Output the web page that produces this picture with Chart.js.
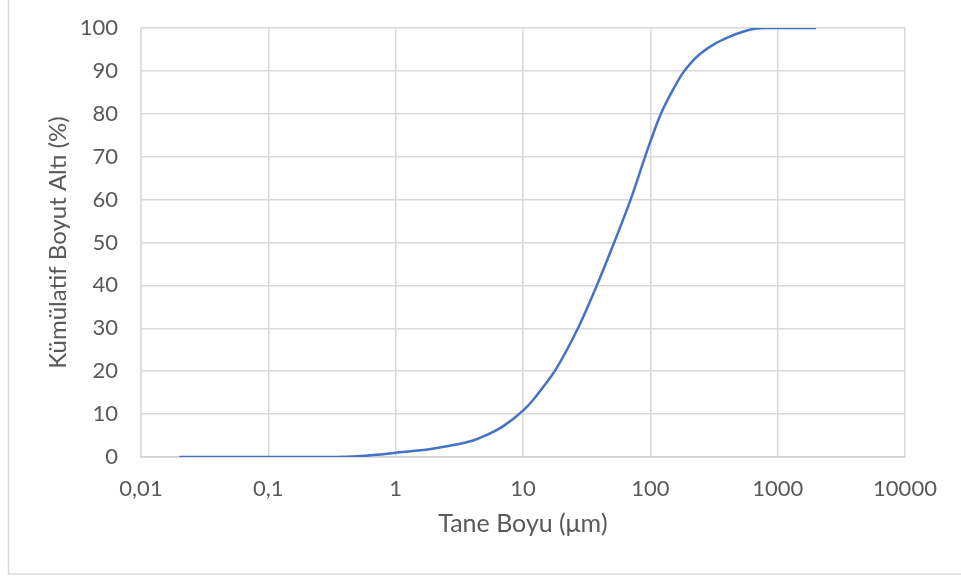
<!DOCTYPE html>
<html>
<head>
<meta charset="utf-8">
<script src="https://cdn.jsdelivr.net/npm/chart.js@4/dist/chart.umd.min.js"></script>
<style>
  html, body { margin: 0; padding: 0; background: #fff; }
  #wrap { width: 961px; height: 579px; }
</style>
</head>
<body>
<div id="wrap"><canvas id="chart1" width="961" height="579"></canvas></div>
<script>
// particle size distribution (cumulative undersize)
var sizes = [0.02, 0.05, 0.1, 0.2, 0.3, 0.4, 0.5, 0.7, 1, 1.5, 2, 3, 4, 5, 7, 10, 12, 15, 18, 27, 38, 52, 70, 91, 100, 121, 150, 178, 210, 244, 320, 420, 540, 680, 800, 1000, 2000]
var cumulative = [0, 0, 0, 0, 0, 0.05, 0.15, 0.5, 1.0, 1.5, 2.0, 2.9, 3.8, 4.9, 7.2, 10.8, 13.3, 17.0, 20.3, 30, 40, 50, 60, 70, 73.5, 80, 85.5, 89.3, 92.0, 93.9, 96.3, 98.0, 99.2, 99.9, 100, 100, 100]
var xTicks = [0.01, 0.1, 1, 10, 100, 1000, 10000]

var points = sizes.map(function (s, i) { return { x: s, y: cumulative[i] } })

var gridCol = '#d9d9d9'
var textCol = '#595959'
var fontFam = 'Lato, "Open Sans", sans-serif'

// outer chart frame
var frame = {
    id: 'frame',
    beforeDraw: function (chart) {
        var c = chart.ctx
        c.save()
        c.strokeStyle = '#d9d9d9'
        c.lineWidth = 1.5
        c.strokeRect(8.5, -10, 1000, 584)
        c.restore()
    }
}

var g1 = {
    type: 'line',
    data: {
        datasets: [{
            data: points,
            borderColor: '#4472C4',
            borderWidth: 2.5,
            pointRadius: 0,
            fill: false,
            cubicInterpolationMode: 'monotone'
        }]
    },
    options: {
        responsive: false,
        animation: false,
        layout: { padding: { left: 0, top: 28, right: 56, bottom: 0 } },
        plugins: { legend: { display: false }, tooltip: { enabled: false } },
        scales: {
            x: {
                type: 'logarithmic',
                min: 0.01,
                max: 10000,
                afterBuildTicks: function (scale) {
                    scale.ticks = xTicks.map(function (v) { return { value: v } })
                },
                afterFit: function (scale) { scale.height = 122 },
                grid: { color: gridCol, lineWidth: 1.5, drawTicks: false },
                border: { color: '#d0d0d0', width: 1.5 },
                ticks: {
                    padding: 19,
                    color: textCol,
                    font: { family: fontFam, size: 22 },
                    maxRotation: 0,
                    autoSkip: false,
                    callback: function (v) { return String(v).replace('.', ',') }
                },
                title: {
                    display: true,
                    text: 'Tane Boyu (\u03bcm)',
                    color: textCol,
                    font: { family: fontFam, size: 25 },
                    padding: { top: 0, bottom: 40 }
                }
            },
            y: {
                min: 0,
                max: 100,
                afterFit: function (scale) {
                    scale.width = 141
                    scale.paddingTop = 0
                    scale.paddingBottom = 0
                },
                grid: { color: gridCol, lineWidth: 1.5, drawTicks: false },
                border: { color: gridCol, width: 1.5 },
                ticks: {
                    stepSize: 10,
                    padding: 23,
                    color: textCol,
                    font: { family: fontFam, size: 22 }
                },
                title: {
                    display: true,
                    text: 'Kümülatif Boyut Altı (%)',
                    color: textCol,
                    font: { family: fontFam, size: 24 },
                    padding: { top: 44, bottom: 0 }
                }
            }
        }
    },
    plugins: [frame]
}

var graf = new Chart(document.getElementById('chart1'), g1)
</script>
</body>
</html>
